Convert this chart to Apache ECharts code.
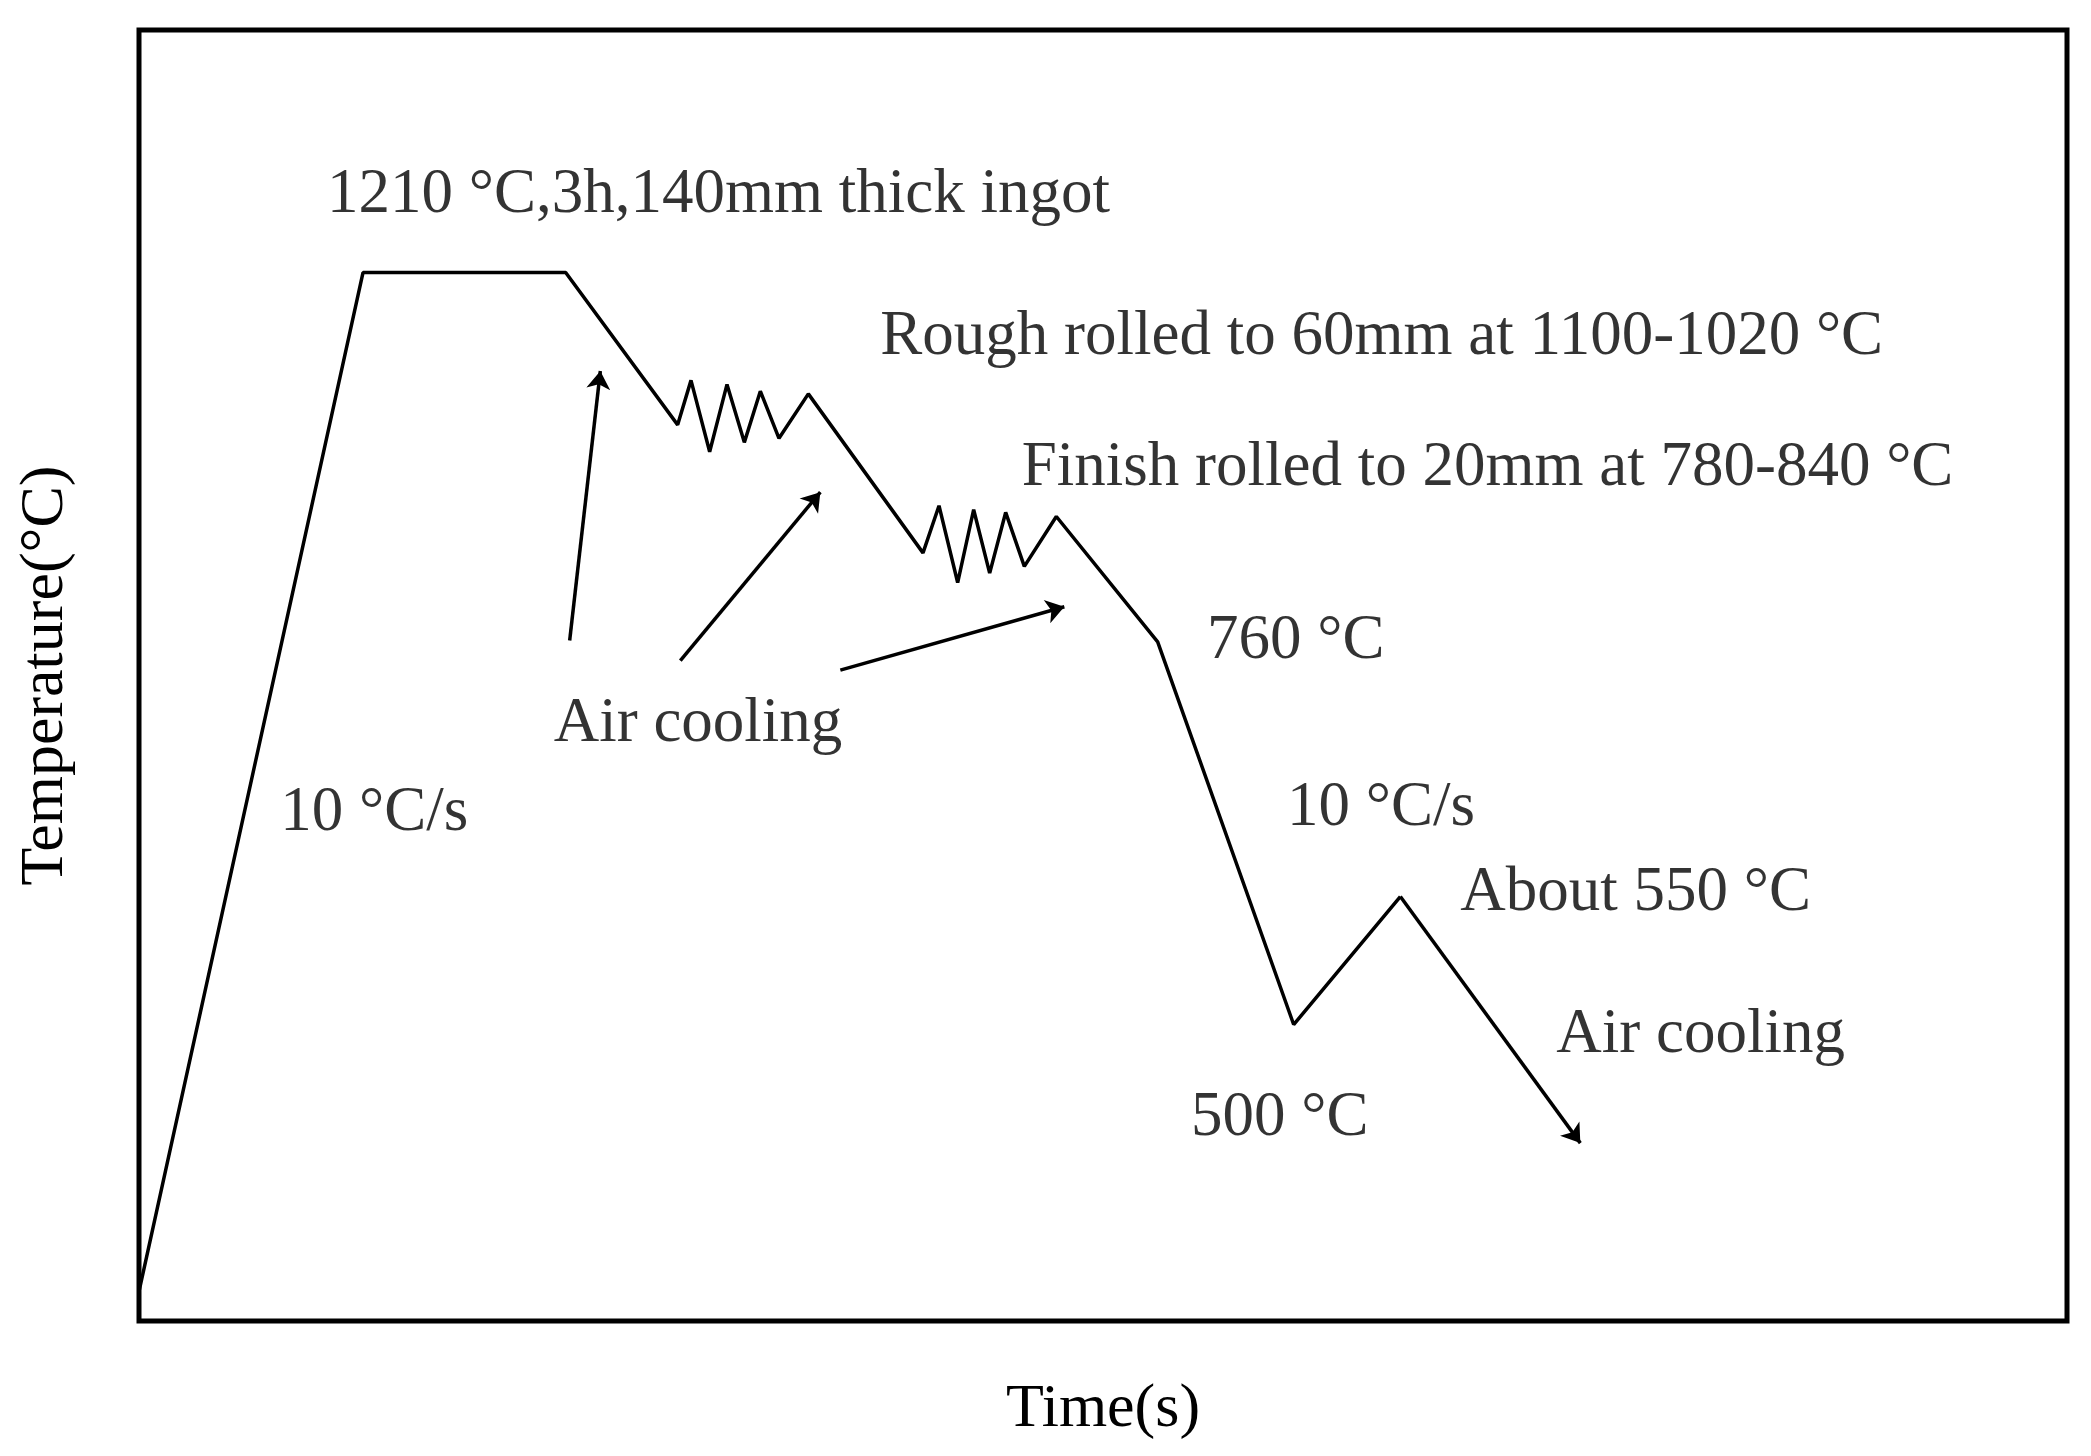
<!DOCTYPE html>
<html>
<head>
<meta charset="utf-8">
<script src="https://cdn.jsdelivr.net/npm/echarts@6/dist/echarts.min.js"></script>
<style>
    html, body { margin: 0; padding: 0; background: #fff; }
    #chart { width: 2091px; height: 1456px; }
</style>
</head>
<body>
<div id="chart"></div>
<script>
    // process path, arbitrary time / temperature units
    var pathTime = [0, 168, 320, 404, 414, 428, 441, 454, 466, 480, 502, 588, 600, 614, 626, 638, 650, 664, 688, 764, 866, 946];
    var pathTemp = [22, 778, 778, 665, 698, 645, 695, 652, 690, 655, 688, 570, 605, 548, 602, 555, 600, 560, 597, 504, 220, 315];
    // final air cooling segment (drawn with arrow head)
    var tailTime = [946, 1081];
    var tailTemp = [315, 132];
    // annotation arrows: [fromTime, fromTemp, toTime, toTemp]
    var arrows = [
        [323, 505, 346, 705],
        [406, 490, 511, 615],
        [526, 483, 694, 530]
    ];
    // labels: [text, time, temp]
    var labels = [
        ['1210 \u00b0C,3h,140mm thick ingot', 141, 835],
        ['Rough rolled to 60mm at 1100-1020 \u00b0C', 556, 730],
        ['Finish rolled to 20mm at 780-840 \u00b0C', 662, 633],
        ['760 \u00b0C', 801, 504],
        ['Air cooling', 311, 443],
        ['10 \u00b0C/s', 106, 377],
        ['10 \u00b0C/s', 861, 380],
        ['About 550 \u00b0C', 991, 317],
        ['Air cooling', 1063, 212],
        ['500 \u00b0C', 789, 150]
    ];

    var chart = echarts.init(document.getElementById('chart'));
    var font = 'Liberation Serif';

    var mainData = pathTime.map(function (t, i) { return [t, pathTemp[i]]; });
    var arrowData = arrows.map(function (a) { return { coords: [[a[0], a[1]], [a[2], a[3]]] }; });
    arrowData.push({ coords: [[tailTime[0], tailTemp[0]], [tailTime[1], tailTemp[1]]] });

    chart.setOption({
        backgroundColor: '#fff',
        animation: false,
        grid: {
            left: 139, right: 24, top: 30, bottom: 135,
            show: true, borderColor: '#000', borderWidth: 5
        },
        xAxis: {
            type: 'value', min: 0, max: 1446,
            name: 'Time(s)', nameLocation: 'middle', nameGap: 58,
            nameTextStyle: { fontFamily: font, fontSize: 62, color: '#000' },
            axisLine: { show: false }, axisTick: { show: false },
            axisLabel: { show: false }, splitLine: { show: false }
        },
        yAxis: {
            type: 'value', min: 0, max: 958,
            name: 'Temperature(\u00b0C)', nameLocation: 'middle', nameGap: 62,
            nameTextStyle: { fontFamily: font, fontSize: 62, color: '#000' },
            axisLine: { show: false }, axisTick: { show: false },
            axisLabel: { show: false }, splitLine: { show: false }
        },
        series: [
            {
                type: 'line',
                data: mainData,
                symbol: 'none',
                lineStyle: { color: '#000', width: 3.5 }
            },
            {
                type: 'lines',
                coordinateSystem: 'cartesian2d',
                data: arrowData,
                symbol: ['none', 'arrow'],
                symbolSize: 18,
                lineStyle: { color: '#000', width: 3.5, opacity: 1 }
            },
            {
                type: 'scatter',
                data: labels.map(function (l) { return { value: [l[1], l[2]], name: l[0] }; }),
                symbolSize: 0,
                label: {
                    show: true, position: 'right', distance: 0,
                    formatter: '{b}',
                    fontFamily: font, fontSize: 63, color: '#000'
                }
            }
        ]
    });
</script>
</body>
</html>
